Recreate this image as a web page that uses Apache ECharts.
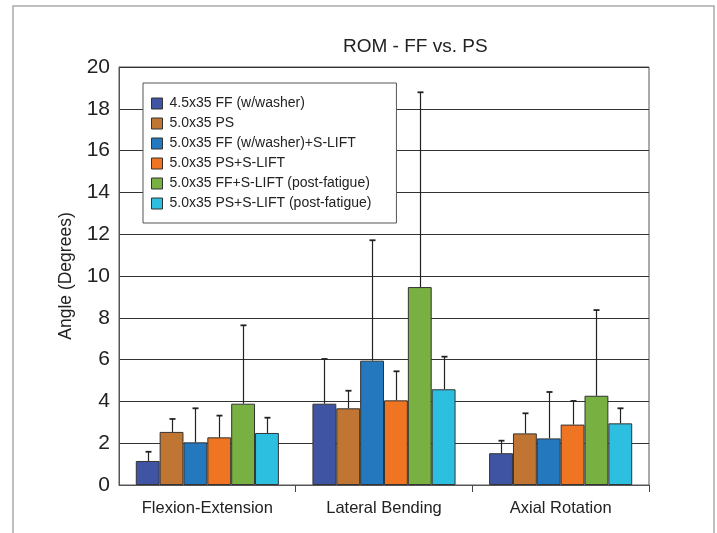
<!DOCTYPE html>
<html>
<head>
<meta charset="utf-8">
<script src="https://cdn.jsdelivr.net/npm/echarts@6/dist/echarts.min.js"></script>
<style>html,body{margin:0;padding:0;background:#fff}#c{width:717px;height:533px}</style>
</head>
<body>
<div id="c"></div>
<script>
var categories = ['Flexion-Extension', 'Lateral Bending', 'Axial Rotation'];
var seriesNames = ['4.5x35 FF (w/washer)', '5.0x35 PS', '5.0x35 FF (w/washer)+S-LIFT', '5.0x35 PS+S-LIFT', '5.0x35 FF+S-LIFT (post-fatigue)', '5.0x35 PS+S-LIFT (post-fatigue)'];
var ff45Washer = [1.15, 3.89, 1.52];
var ps50 = [2.54, 3.67, 2.47];
var ff50WasherSlift = [2.04, 5.95, 2.23];
var ps50Slift = [2.28, 4.05, 2.89];
var ff50SliftPost = [3.89, 9.47, 4.27];
var ps50SliftPost = [2.49, 4.58, 2.95];
var ff45WasherSD = [0.44, 2.14, 0.60];
var ps50SD = [0.62, 0.84, 0.96];
var ff50WasherSliftSD = [1.63, 5.76, 2.22];
var ps50SliftSD = [1.04, 1.39, 1.13];
var ff50SliftPostSD = [3.75, 9.32, 4.10];
var ps50SliftPostSD = [0.73, 1.56, 0.72];
var yTicks = [0, 2, 4, 6, 8, 10, 12, 14, 16, 18, 20];

var colors = ['#3F54A3', '#C07533', '#2478BE', '#F07522', '#78B041', '#2DBFDF'];
var means = [ff45Washer, ps50, ff50WasherSlift, ps50Slift, ff50SliftPost, ps50SliftPost];
var sds = [ff45WasherSD, ps50SD, ff50WasherSliftSD, ps50SliftSD, ff50SliftPostSD, ps50SliftPostSD];
var catGap = 0.19;
var nSeries = seriesNames.length;

var series = [];
seriesNames.forEach(function (name, i) {
  series.push({
    name: name,
    type: 'bar',
    data: means[i],
    barGap: '0%',
    barCategoryGap: '19%',
    itemStyle: { color: colors[i], borderColor: '#333', borderWidth: 1 },
    z: 2
  });
});
seriesNames.forEach(function (name, i) {
  series.push({
    name: 'err' + i,
    type: 'custom',
    z: 3,
    data: means[i].map(function (m, k) { return [k, m, m + sds[i][k]]; }),
    renderItem: function (params, api) {
      var k = api.value(0);
      var band = api.size([1, 0])[0];
      var bw = band * (1 - catGap) / nSeries;
      var off = -band * (1 - catGap) / 2 + bw * (i + 0.5);
      var p0 = api.coord([k, api.value(1)]);
      var p1 = api.coord([k, api.value(2)]);
      var x = Math.round(p0[0] + off) + 0.5;
      var style = { stroke: '#222', lineWidth: 1.2 };
      return {
        type: 'group',
        children: [
          { type: 'line', shape: { x1: x, y1: p0[1], x2: x, y2: p1[1] }, style: style },
          { type: 'line', shape: { x1: x - 3, y1: p1[1], x2: x + 3, y2: p1[1] }, style: { stroke: '#222', lineWidth: 1.8 } }
        ]
      };
    }
  });
});

var chart = echarts.init(document.getElementById('c'));
chart.setOption({
  animation: false,
  backgroundColor: '#fff',
  textStyle: { fontFamily: 'Liberation Sans, Arial, sans-serif' },
  graphic: [{
    type: 'rect',
    shape: { x: 13, y: 6, width: 701, height: 560 },
    style: { fill: null, stroke: '#aaa', lineWidth: 1.5 },
    silent: true
  }],
  title: {
    text: 'ROM - FF vs. PS',
    left: 338, top: 32,
    textStyle: { fontSize: 19, fontWeight: 'normal', color: '#222', fontFamily: 'Liberation Sans, Arial, sans-serif' }
  },
  legend: {
    data: seriesNames,
    orient: 'vertical',
    left: 143, top: 83,
    padding: [13, 25, 12, 8],
    backgroundColor: '#fff',
    borderColor: '#555',
    borderWidth: 1,
    icon: 'rect',
    itemWidth: 11, itemHeight: 11,
    itemGap: 5,
    itemStyle: { borderColor: '#333', borderWidth: 1 },
    textStyle: { fontSize: 14, color: '#222', lineHeight: 15, padding: [0, 0, 0, 2] },
    z: 10
  },
  grid: {
    left: 119, right: 68, top: 67, bottom: 48,
    show: true, borderColor: '#555', borderWidth: 1
  },
  xAxis: {
    type: 'category',
    data: categories,
    axisLine: { lineStyle: { color: '#555' } },
    axisTick: { show: true, length: 7, interval: function (idx) { return idx > 0; }, lineStyle: { color: '#444' } },
    axisLabel: { fontSize: 16.5, color: '#222', margin: 15 }
  },
  yAxis: {
    type: 'value',
    min: yTicks[0], max: yTicks[yTicks.length - 1], interval: 2,
    name: 'Angle (Degrees)',
    nameLocation: 'middle',
    nameGap: 44,
    nameTextStyle: { fontSize: 17.5, color: '#222' },
    axisLine: { show: true, lineStyle: { color: '#555' } },
    axisTick: { show: false },
    axisLabel: { fontSize: 21, color: '#222', margin: 9 },
    splitLine: { lineStyle: { color: '#333', width: 1 } }
  },
  series: series
});
</script>
</body>
</html>
